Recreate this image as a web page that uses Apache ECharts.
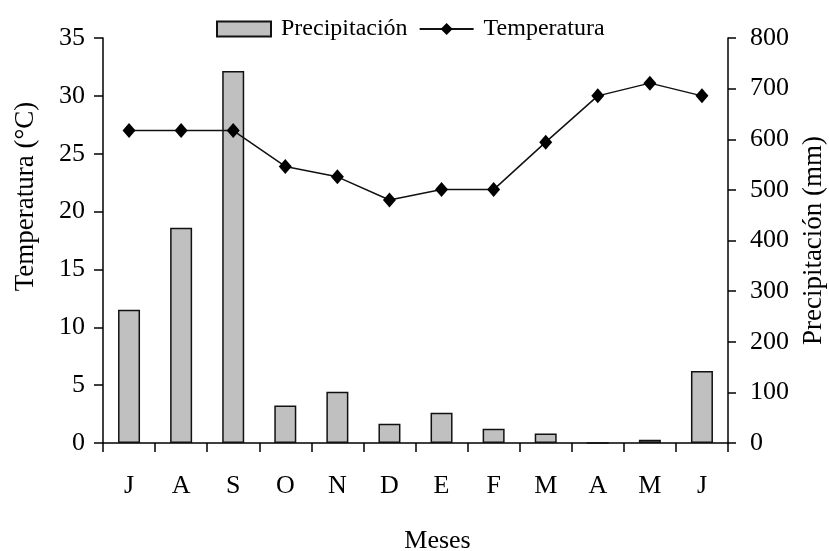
<!DOCTYPE html>
<html>
<head>
<meta charset="utf-8">
<script src="https://cdn.jsdelivr.net/npm/echarts@6/dist/echarts.min.js"></script>
<style>
html,body{margin:0;padding:0;background:#fff;}
#main{width:829px;height:551px;}
</style>
</head>
<body>
<div id="main"></div>
<script>
var meses = ['J', 'A', 'S', 'O', 'N', 'D', 'E', 'F', 'M', 'A', 'M', 'J'];
var precipitacion = [263, 425, 735, 74, 101, 38, 60, 28, 19, 0, 6.5, 142];
var temperatura = [27, 27, 27, 23.9, 23, 21, 21.9, 21.9, 26, 30, 31.1, 30];
var tempTicks = [0, 35, 5];
var precTicks = [0, 800, 100];

var serif = '"Liberation Serif", "Times New Roman", serif';
var myChart = echarts.init(document.getElementById('main'));

var option = {
	backgroundColor: '#fff',
	animation: false,
	textStyle: {fontFamily: serif, color: '#000'},
	legend: {
		left: 211,
		top: 12,
		itemGap: 11,
		itemWidth: 54,
		itemHeight: 15,
		textStyle: {fontFamily: serif, fontSize: 24, color: '#000', padding: [0, 0, 0, 5]},
		data: [{name: 'Precipitación', icon: 'rect'}, {name: 'Temperatura'}]
	},
	grid: {left: 103, right: 101, top: 38, bottom: 108, outerBoundsMode: 'none'},
	xAxis: {
		type: 'category',
		data: meses,
		name: 'Meses',
		nameLocation: 'middle',
		nameGap: 85,
		nameTextStyle: {fontFamily: serif, fontSize: 26, color: '#000', padding: [0, 0, 0, 44]},
		axisLine: {lineStyle: {color: '#000', width: 1.5}},
		axisTick: {show: true, length: 9, lineStyle: {color: '#000', width: 1.5}},
		axisLabel: {margin: 30, fontFamily: serif, fontSize: 26, color: '#000'}
	},
	yAxis: [{
		type: 'value',
		min: tempTicks[0],
		max: tempTicks[1],
		interval: tempTicks[2],
		name: 'Temperatura (°C)',
		nameLocation: 'middle',
		nameGap: 64,
		nameRotate: 90,
		nameTextStyle: {fontFamily: serif, fontSize: 27, color: '#000', padding: [0, 0, 0, 88]},
		axisLine: {show: true, lineStyle: {color: '#000', width: 1.5}},
		axisTick: {show: true, length: 9, lineStyle: {color: '#000', width: 1.5}},
		axisLabel: {margin: 18, fontFamily: serif, fontSize: 26, color: '#000'},
		splitLine: {show: false}
	}, {
		type: 'value',
		min: precTicks[0],
		max: precTicks[1],
		interval: precTicks[2],
		name: 'Precipitación (mm)',
		nameLocation: 'middle',
		nameGap: 72,
		nameRotate: 90,
		nameTextStyle: {fontFamily: serif, fontSize: 27, color: '#000'},
		axisLine: {show: true, lineStyle: {color: '#000', width: 1.5}},
		axisTick: {show: true, length: 8, lineStyle: {color: '#000', width: 1.5}},
		axisLabel: {margin: 22, fontFamily: serif, fontSize: 26, color: '#000'},
		splitLine: {show: false}
	}],
	series: [{
		name: 'Precipitación',
		type: 'bar',
		yAxisIndex: 1,
		barWidth: 22,
		data: precipitacion,
		itemStyle: {color: '#c0c0c0', borderColor: '#111', borderWidth: 1.5}
	}, {
		name: 'Temperatura',
		type: 'line',
		yAxisIndex: 0,
		data: temperatura,
		symbol: 'diamond',
		symbolSize: [13, 15],
		lineStyle: {color: '#111', width: 1.5},
		itemStyle: {color: '#000'}
	}]
};
myChart.setOption(option);
</script>
</body>
</html>
